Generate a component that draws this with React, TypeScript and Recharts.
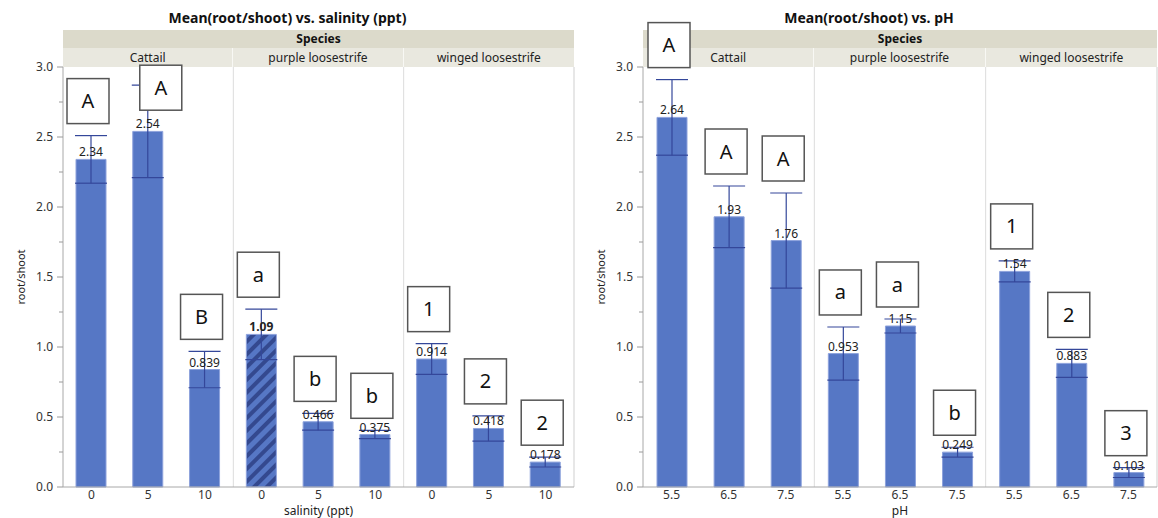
import React from 'react';
import { BarChart, Bar, XAxis, YAxis, ErrorBar, LabelList, Cell, ReferenceLine } from 'recharts';

const SPECIES = ['Cattail', 'purple loosestrife', 'winged loosestrife'];

const SALINITY_LEVELS = ['0', '5', '10'];
const SALINITY_MEANS = [2.34, 2.54, 0.839, 1.09, 0.466, 0.375, 0.914, 0.418, 0.178];
const SALINITY_ERRS = [0.17, 0.33, 0.13, 0.18, 0.06, 0.03, 0.11, 0.09, 0.035];
const SALINITY_LETTERS = ['A', 'A', 'B', 'a', 'b', 'b', '1', '2', '2'];

const PH_LEVELS = ['5.5', '6.5', '7.5'];
const PH_MEANS = [2.64, 1.93, 1.76, 0.953, 1.15, 0.249, 1.54, 0.883, 0.103];
const PH_ERRS = [0.27, 0.22, 0.34, 0.19, 0.05, 0.035, 0.075, 0.1, 0.035];
const PH_LETTERS = ['A', 'A', 'A', 'a', 'a', 'b', '1', '2', '3'];

const Y_TICKS = [0, 0.25, 0.5, 0.75, 1, 1.25, 1.5, 1.75, 2, 2.25, 2.5, 2.75, 3];

const FONT = '"Noto Sans", "Open Sans", sans-serif';
const BLUE = '#5677c5';
const ERR_COLOR = '#34479a';
const PLOT_TOP = 67;
const PLOT_BOTTOM = 487;
const PX_PER_UNIT = (PLOT_BOTTOM - PLOT_TOP) / 3;

function YTick(props: any) {
  const { x, y, payload } = props;
  const v = payload.value as number;
  const major = Math.abs(v * 2 - Math.round(v * 2)) < 1e-6;
  return (
    <g>
      <line x1={x - (major ? 6 : 4)} x2={x} y1={y} y2={y} stroke="#9a9a9a" />
      {major && (
        <text x={x - 10} y={y} dy={4} textAnchor="end" fontSize={12} fill="#333" fontFamily={FONT}>
          {v.toFixed(1)}
        </text>
      )}
    </g>
  );
}

function XTick(props: any) {
  const { x, y, payload, levels } = props;
  return (
    <text x={x} y={y + 12} textAnchor="middle" fontSize={12} fill="#333" fontFamily={FONT}>
      {levels[payload.value % 3]}
    </text>
  );
}

type PanelProps = {
  title: string;
  xTitle: string;
  levels: string[];
  means: number[];
  errs: number[];
  letters: string[];
  left: number;
  width: number;
  hatchIndex?: number;
  sideIndex?: number;
};

function Panel({ title, xTitle, levels, means, errs, letters, left, width, hatchIndex, sideIndex }: PanelProps) {
  const data = means.map((m, i) => ({ pos: i, mean: m, err: errs[i] }));
  const axisLeft = 63;
  const plotW = width - axisLeft - 1;
  const cellW = plotW / 3;
  const hatchId = `hatch-${left}`;

  const valueLabel = (p: any) => {
    const { x, y, width: w, index, value } = p;
    return (
      <text
        x={x + w / 2}
        y={y - 3}
        textAnchor="middle"
        fontSize={12}
        fill="#222"
        fontWeight={index === hatchIndex ? 'bold' : 'normal'}
        fontFamily={FONT}
      >
        {String(value)}
      </text>
    );
  };

  const letterBox = (p: any) => {
    const { x, y, width: w, index } = p;
    const errTop = y - errs[index] * PX_PER_UNIT;
    const bw = 42;
    const bh = 45;
    let cx = x + w / 2 - 3;
    let top = errTop - 12 - bh;
    if (index === sideIndex) {
      cx = x + w / 2 + 13;
      top = errTop - 20;
    }
    return (
      <g>
        <rect x={cx - bw / 2} y={top} width={bw} height={bh} fill="#fff" stroke="#555" strokeWidth={1.5} />
        <text x={cx} y={top + bh / 2 + 7} textAnchor="middle" fontSize={20} fill="#111" fontFamily={FONT}>
          {letters[index]}
        </text>
      </g>
    );
  };

  return (
    <div style={{ position: 'absolute', left, top: 0, width, height: 518, fontFamily: FONT }}>
      <div style={{ position: 'absolute', left: 0, width, top: 8, textAlign: 'center', fontSize: 14, fontWeight: 'bold', color: '#111' }}>
        {title}
      </div>
      <div
        style={{
          position: 'absolute', left: axisLeft, top: 30, width: plotW, height: 18, background: '#dcdacb',
          textAlign: 'center', fontSize: 12, fontWeight: 'bold', lineHeight: '18px', color: '#111',
        }}
      >
        Species
      </div>
      {SPECIES.map((s, i) => (
        <div
          key={s}
          style={{
            position: 'absolute', left: axisLeft + i * cellW, top: 48, width: cellW - (i < 2 ? 1 : 0), height: 19,
            background: '#e9e8df', textAlign: 'center', fontSize: 12, lineHeight: '19px', color: '#222',
            borderRight: i < 2 ? '1px solid #f8f8f4' : 'none',
          }}
        >
          {s}
        </div>
      ))}
      <div
        style={{
          position: 'absolute', left: 2, top: 277, fontSize: 11, color: '#222',
          transform: 'translate(-50%, -50%) rotate(-90deg) translate(0, 18px)', whiteSpace: 'nowrap', transformOrigin: 'center',
        }}
      >
        root/shoot
      </div>
      <div
        style={{
          position: 'absolute', left: axisLeft, width: plotW, top: 504, height: 13, textAlign: 'center',
          fontSize: 12, lineHeight: '13px', color: '#222',
        }}
      >
        {xTitle}
      </div>
      <div style={{ position: 'absolute', left: 0, top: 0 }}>
        <BarChart width={width} height={518} data={data} margin={{ top: PLOT_TOP, right: 1, bottom: 0, left: 20 }}>
          <defs>
            <pattern id={hatchId} patternUnits="userSpaceOnUse" width={9} height={9} patternTransform="rotate(45)">
              <rect width={9} height={9} fill={BLUE} />
              <rect width={4} height={9} fill="#34498f" />
            </pattern>
          </defs>
          <XAxis
            dataKey="pos"
            type="number"
            domain={[-0.5, 8.5]}
            ticks={[0, 1, 2, 3, 4, 5, 6, 7, 8]}
            tickLine={false}
            tickSize={0}
            tickMargin={0}
            height={31}
            axisLine={{ stroke: '#a8a8a8' }}
            tick={<XTick levels={levels} />}
            interval={0}
            allowDataOverflow
          />
          <YAxis
            domain={[0, 3]}
            ticks={Y_TICKS}
            width={43}
            tickSize={0}
            tickMargin={0}
            tickLine={false}
            tick={YTick}
            axisLine={{ stroke: '#a8a8a8' }}
            interval={0}
          />
          <ReferenceLine x={2.5} stroke="#dcdcdc" />
          <ReferenceLine x={5.5} stroke="#dcdcdc" />
          <ReferenceLine x={8.5} stroke="#cfcfcf" />
          <Bar dataKey="mean" barSize={30} fill={BLUE} stroke="#8da2dc" strokeWidth={1} isAnimationActive={false}>
            {data.map((d, i) => (
              <Cell key={i} fill={i === hatchIndex ? `url(#${hatchId})` : BLUE} />
            ))}
            <ErrorBar dataKey="err" width={16} stroke={ERR_COLOR} strokeWidth={1.2} direction="y" />
            <LabelList dataKey="mean" content={valueLabel} />
            <LabelList dataKey="mean" content={letterBox} />
          </Bar>
        </BarChart>
      </div>
    </div>
  );
}

export default function App() {
  return (
    <div style={{ position: 'absolute', left: 0, top: 0, width: 1158, height: 518, background: '#fff', overflow: 'hidden' }}>
      <Panel
        title="Mean(root/shoot) vs. salinity (ppt)"
        xTitle="salinity (ppt)"
        levels={SALINITY_LEVELS}
        means={SALINITY_MEANS}
        errs={SALINITY_ERRS}
        letters={SALINITY_LETTERS}
        left={0}
        width={575}
        hatchIndex={3}
        sideIndex={1}
      />
      <Panel
        title="Mean(root/shoot) vs. pH"
        xTitle="pH"
        levels={PH_LEVELS}
        means={PH_MEANS}
        errs={PH_ERRS}
        letters={PH_LETTERS}
        left={580}
        width={578}
      />
    </div>
  );
}
